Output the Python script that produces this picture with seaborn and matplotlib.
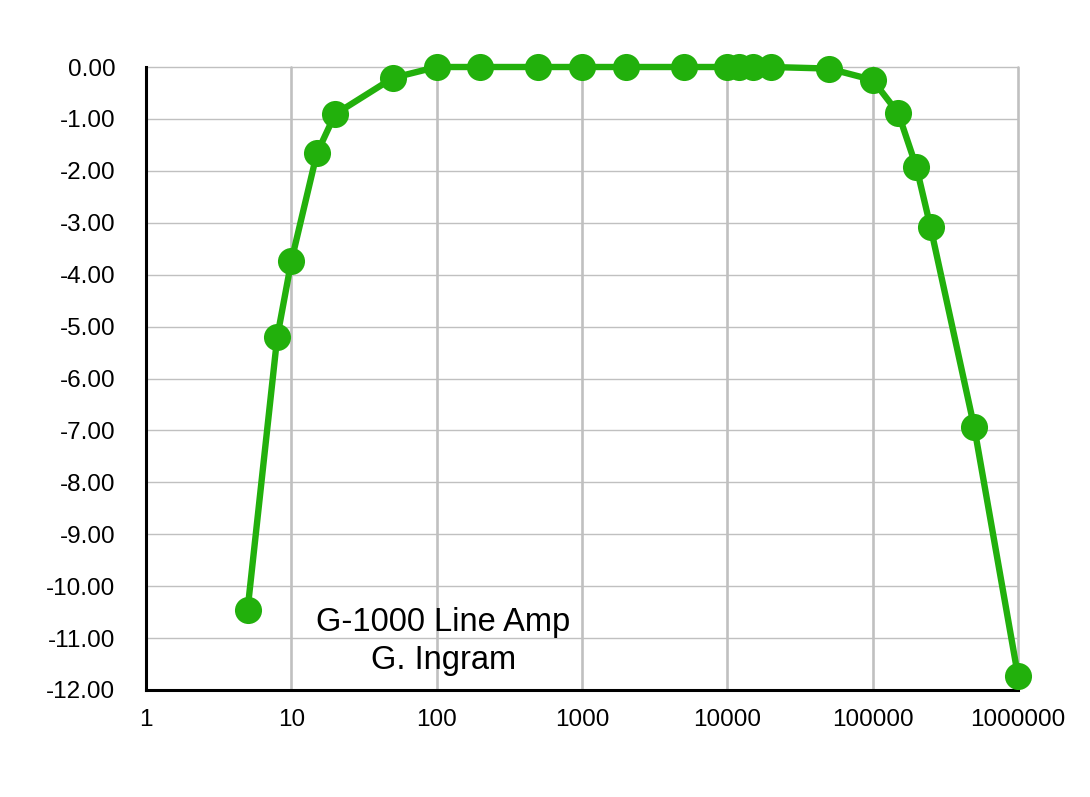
import matplotlib
matplotlib.use("Agg")
import matplotlib.pyplot as plt
import seaborn as sns
import pandas as pd
import numpy as np

# Data
freq = [5, 8, 10, 15, 20, 50, 100, 200, 500, 1000, 2000, 5000,
        10000, 12000, 15000, 20000, 50000, 100000, 150000, 200000,
        250000, 500000, 1000000]
gain_db = [-10.45, -5.20, -3.74, -1.66, -0.91, -0.21, 0.0, 0.0, 0.0, 0.0,
           0.0, 0.0, 0.0, 0.0, 0.0, 0.0, -0.03, -0.25, -0.89, -1.93,
           -3.08, -6.94, -11.73]
x_ticks = [1, 10, 100, 1000, 10000, 100000, 1000000]
x_tick_labels = ["1", "10", "100", "1000", "10000", "100000", "1000000"]
y_ticks = [0, -1, -2, -3, -4, -5, -6, -7, -8, -9, -10, -11, -12]
y_tick_labels = ["0.00", "-1.00", "-2.00", "-3.00", "-4.00", "-5.00", "-6.00",
                 "-7.00", "-8.00", "-9.00", "-10.00", "-11.00", "-12.00"]
annotation = "G-1000 Line Amp\nG. Ingram"

df = pd.DataFrame({"freq": freq, "gain": gain_db})

sns.set_style("white")
plt.rcParams["font.family"] = ["Liberation Sans", "DejaVu Sans"]
plt.rcParams["axes.unicode_minus"] = False

fig = plt.figure(figsize=(10.9, 7.97), dpi=100)
ax = fig.add_axes([146 / 1090, 1 - 690 / 797, (1018 - 146) / 1090, (690 - 67) / 797])

green = "#22B00C"
sns.lineplot(data=df, x="freq", y="gain", ax=ax, color=green, linewidth=4.6,
             marker="o", markersize=19.5, markeredgewidth=0, clip_on=False,
             zorder=5)

ax.set_xscale("log")
ax.set_xlim(1, 1000000)
ax.set_ylim(-12, 0)
ax.set_xticks(x_ticks)
ax.set_xticklabels(x_tick_labels)
ax.xaxis.set_minor_locator(matplotlib.ticker.NullLocator())
ax.set_yticks(y_ticks)
ax.set_yticklabels(y_tick_labels)
ax.tick_params(axis="both", length=0, labelsize=17.5, colors="black")
ax.tick_params(axis="y", pad=22)
ax.tick_params(axis="x", pad=14)
ax.set_xlabel("")
ax.set_ylabel("")

ax.grid(True, axis="y", color="#c0c0c0", linewidth=1.0)
ax.grid(True, axis="x", color="#c0c0c0", linewidth=1.9)
ax.set_axisbelow(True)
for gl in ax.get_xgridlines() + ax.get_ygridlines():
    gl.set_clip_on(False)

for s in ["top", "right"]:
    ax.spines[s].set_visible(False)
for s in ["left", "bottom"]:
    ax.spines[s].set_color("black")
    ax.spines[s].set_linewidth(2.2)
    ax.spines[s].set_zorder(3)

ax.text(0.341, 0.078, annotation, transform=ax.transAxes, ha="center",
        va="center", fontsize=23.5, color="black", linespacing=1.3)

fig.savefig("out.png", dpi=100)
